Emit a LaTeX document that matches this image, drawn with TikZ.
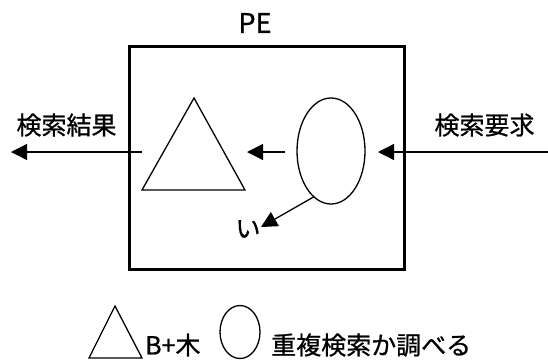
\documentclass[tikz,border=0pt]{standalone}
\usepackage{fontspec}
\setmainfont{Noto Sans CJK JP}
\newfontfamily\jpfont{Noto Sans CJK JP}[FakeBold=0.8]
\usetikzlibrary{arrows.meta,shapes.geometric}
\begin{document}
\begin{tikzpicture}[x=1pt,y=-1pt,
  txt/.style={inner sep=0pt,font=\jpfont\fontsize{25}{28}\selectfont},
  thin line/.style={line width=1.3pt},
  arr/.style={thin line,-{Triangle[length=16pt,width=16pt]}},
  oval/.style={draw,ellipse,thin line,inner sep=0pt}]
\useasboundingbox (0,0) rectangle (548,360);
% PE box
\node[draw,line width=3pt,minimum width=275pt,minimum height=223pt,inner sep=0pt] (pe) at (266.5,157.5) {};
\node[txt,font=\jpfont\fontsize{27}{30}\selectfont] (petitle) at (255,23) {PE};
% triangle (B+ tree)
\coordinate (ta) at (194,98);
\coordinate (tl) at (142,190);
\coordinate (tr) at (245,190);
\draw[thin line,line join=miter] (ta) -- (tl) -- (tr) -- cycle;
% ellipse (duplicate check)
\node[oval,minimum width=68pt,minimum height=106pt] (ell) at (331,151) {};
% labels
\node[txt] (res) at (66.5,125) {検索結果};
\node[txt] (req) at (484.5,125) {検索要求};
\node[txt] (i) at (248,229) {い};
% arrows
\coordinate (inR) at (548,152);
\coordinate (inTip) at (378,152);
\draw[arr] (inR) -- (inTip);
\coordinate (midS) at (285,152);
\coordinate (midT) at (247,152);
\draw[arr] (midS) -- (midT);
\coordinate (outS) at (142,152);
\coordinate (outT) at (11,152);
\draw[arr] (outS) -- (outT);
\coordinate (diagT) at (261,227);
\draw[arr] (ell.249) -- (diagT);
% legend
\coordinate (la) at (115,306);
\coordinate (ll) at (89,358);
\coordinate (lr) at (142,358);
\draw[thin line] (la) -- (ll) -- (lr) -- cycle;
\node[txt,anchor=west] (bt) at (145,345) {B+木};
\node[oval,minimum width=40pt,minimum height=53pt] (lell) at (240,332) {};
\node[txt,anchor=west] (dup) at (271,345) {重複検索か調べる};
\end{tikzpicture}
\end{document}
